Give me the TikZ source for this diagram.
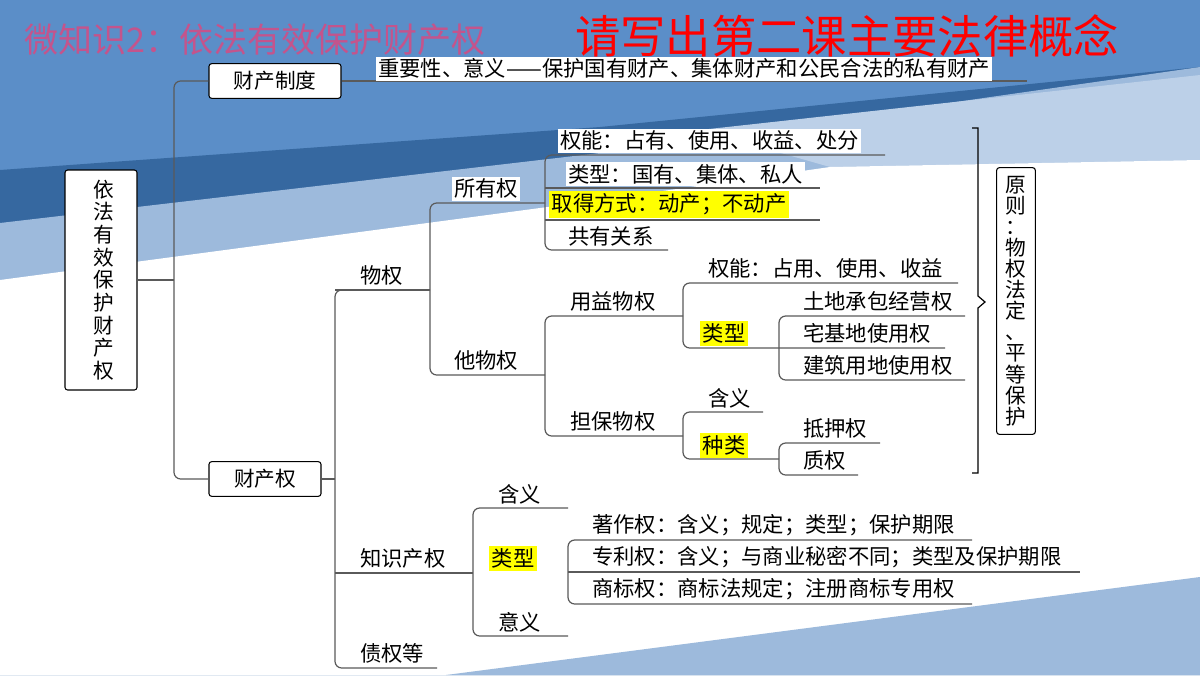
\documentclass[tikz,border=0pt]{standalone}
\usepackage{fontspec}
\setmainfont{Noto Sans CJK SC}
\definecolor{bgmid}{RGB}{91,142,200}
\definecolor{bgdark}{RGB}{54,104,160}
\definecolor{bglight}{RGB}{157,186,220}
\definecolor{bgpale}{RGB}{188,208,232}
\definecolor{lineg}{RGB}{90,90,90}
\definecolor{titlepink}{RGB}{196,84,140}
\definecolor{hy}{RGB}{255,255,0}
\begin{document}
\begin{tikzpicture}[x=0.75pt,y=-0.75pt,
  lbl/.style={anchor=south west,fill=white,inner sep=1.5pt,font=\fontsize{16}{18}\selectfont},
  ylbl/.style={anchor=south west,fill=hy,inner sep=2pt,font=\fontsize{16}{18}\selectfont},
  boxn/.style={draw=black,fill=white,rounded corners=2pt,line width=0.8pt,font=\fontsize{15.5}{17}\selectfont},
  br/.style={draw=lineg,line width=0.9pt,rounded corners=5pt},
  ul/.style={draw=lineg,line width=0.9pt}]
% background
\fill[bgmid] (0,0) rectangle (1200,675);
\useasboundingbox (0,0) rectangle (1200,675);
\fill[bgdark] (0,170) -- (600,127) -- (1200,67) -- (1200,675) -- (0,675) -- cycle;
\fill[bglight] (0,223) -- (600,153) -- (1200,67) -- (1200,675) -- (0,675) -- cycle;
\fill[bgpale] (700,130) -- (1200,75) -- (1200,160) -- (830,167) -- cycle;
\fill[white] (0,280) -- (600,200) -- (830,167) -- (1200,160) -- (1200,675) -- (0,675) -- cycle;
\fill[bglight] (446,675) -- (1200,577) -- (1200,675) -- cycle;
% titles
\node[anchor=west,text=titlepink,font=\fontsize{25.5}{30}\selectfont,inner sep=0] (t1) at (24,40) {微知识2：依法有效保护财产权};
\node[anchor=west,text=red,font=\fontsize{34}{38}\selectfont,inner sep=0] (t2) at (575,36) {请写出第二课主要法律概念};
% root
\node[boxn,minimum width=54pt,minimum height=165pt,text width=1.2em,align=center,font=\fontsize{15.5}{17}\selectfont] (root) at (101,280) {依\\法\\有\\效\\保\\护\\财\\产\\权};
\node[boxn,minimum width=99pt,minimum height=26pt] (zd) at (275,81) {财产制度};
\node[boxn,minimum width=84pt,minimum height=26pt] (cq) at (265,479) {财产权};
\draw[ul] (root.east |- 0,280) -- (174,280);
\draw[br] (zd.west) -- (174,81) -- (174,479) -- (cq.west);
\draw[ul] (zd.east |- 0,81) -- (1027,81);
\node[lbl] (zdt) at (376,81) {重要性、意义——保护国有财产、集体财产和公民合法的私有财产};
% 财产权 branch
\draw[br] (cq.east) -- (335,479);
\draw[br] (430,290) -- (335,290) -- (335,668) -- (437,668);
\draw[ul] (335,573) -- (473,573);
\node[lbl] (wq) at (358,288) {物权};
\node[lbl] (zscq) at (358,571) {知识产权};
\node[lbl] (zq) at (358,666) {债权等};
% 物权
\draw[br] (545,203) -- (430,203) -- (430,375) -- (545,375);
\draw[ul] (335,290) -- (430,290);
\node[lbl] (syq) at (452,201) {所有权};
\node[lbl] (twq) at (452,373) {他物权};
% 所有权
\draw[br] (885,155) -- (545,155) -- (545,250) -- (668,250);
\draw[ul] (545,188) -- (820,188);
\draw[ul] (545,220) -- (820,220);
\node[lbl] (qn1) at (558,153) {权能：占有、使用、收益、处分};
\node[lbl] (lx1) at (566,186) {类型：国有、集体、私人};
\node[ylbl,minimum width=272\pgflinewidth] (qd) at (549,218) {取得方式：动产；不动产};
\node[lbl] (gy) at (566,248) {共有关系};
% 他物权
\draw[br] (683,316) -- (545,316) -- (545,436) -- (683,436);
\node[lbl] (yy) at (568,314) {用益物权};
\node[lbl] (db) at (568,434) {担保物权};
\draw[br] (958,283) -- (683,283) -- (683,348) -- (945,348);
\node[lbl] (qn2) at (706,281) {权能：占用、使用、收益};
\node[ylbl] (lx2) at (700,346) {类型};
\draw[br] (965,316) -- (779,316) -- (779,380) -- (965,380);
\node[lbl] (td) at (801,314) {土地承包经营权};
\node[lbl] (zj) at (801,346) {宅基地使用权};
\node[lbl] (jz) at (801,378) {建筑用地使用权};
\draw[br] (763,412) -- (683,412) -- (683,459) -- (779,459);
\node[lbl] (hy1) at (706,410) {含义};
\node[ylbl] (zl) at (700,458) {种类};
\draw[br] (880,443) -- (779,443) -- (779,475) -- (858,475);
\node[lbl] (dy) at (801,441) {抵押权};
\node[lbl] (zhi) at (801,473) {质权};
% bracket
\draw[line width=0.9pt,black] (972,128) -- (978,128) -- (978,296) -- (985,302) -- (978,308) -- (978,473) -- (972,473);
\node[boxn,inner xsep=0pt,minimum width=29pt,text width=16pt,align=center,font=\fontsize{15.5}{15.8}\selectfont,minimum height=200pt] (yz) at (1016,301) {原\\则\\：\\物\\权\\法\\定\\、\\平\\等\\保\\护};
% 知识产权
\draw[br] (568,508) -- (473,508) -- (473,636) -- (568,636);
\node[lbl] (hy2) at (496,506) {含义};
\node[ylbl] (lx3) at (489,571) {类型};
\node[lbl] (yy2) at (496,634) {意义};
\draw[br] (972,540) -- (568,540) -- (568,604) -- (972,604);
\draw[ul] (568,572) -- (1080,572);
\node[lbl] (zz) at (590,538) {著作权：含义；规定；类型；保护期限};
\node[lbl] (zl2) at (590,570) {专利权：含义；与商业秘密不同；类型及保护期限};
\node[lbl] (sb) at (590,602) {商标权：商标法规定；注册商标专用权};
\end{tikzpicture}
\end{document}
